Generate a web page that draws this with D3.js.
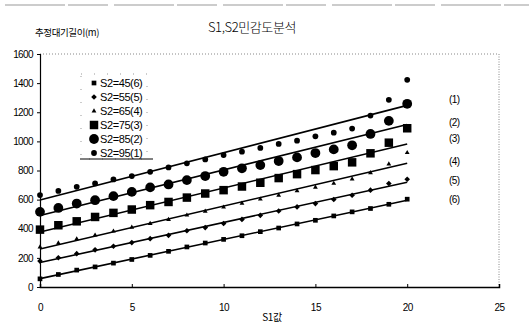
<!DOCTYPE html>
<html><head><meta charset="utf-8">
<script src="https://cdn.jsdelivr.net/npm/d3@7"></script>
<style>body{margin:0;background:#fff}svg{display:block}</style>
</head><body><div id="c"></div>
<script>
const s1Values = d3.range(0, 21);
const seriesNames = ["S2=45(6)", "S2=55(5)", "S2=65(4)", "S2=75(3)", "S2=85(2)", "S2=95(1)"];
const s2_45 = [56,86,116,138,164,189,217,245,275,302,327,352,380,405,433,458,488,516,539,568,603];
const s2_55 = [178,201,229,255,280,305,332,355,386,408,436,464,492,522,550,573,601,630,665,711,740];
const s2_65 = [274,302,330,356,383,410,436,463,493,520,548,575,603,630,660,684,711,741,784,844,922];
const s2_75 = [394,424,451,481,509,532,562,584,614,642,665,690,716,748,775,803,830,856,918,991,1090];
const s2_85 = [516,543,573,596,624,653,684,704,734,762,791,815,837,865,890,920,945,973,1051,1141,1258];
const s2_95 = [631,660,688,711,739,762,791,821,849,876,906,929,955,982,1005,1035,1060,1088,1177,1285,1423];
const seriesValues = [s2_45, s2_55, s2_65, s2_75, s2_85, s2_95];
const lineLabels = ["(6)", "(5)", "(4)", "(3)", "(2)", "(1)"];
const xTicks = [0, 5, 10, 15, 20, 25];
const yTicks = [0, 200, 400, 600, 800, 1000, 1200, 1400, 1600];

const W = 529, H = 325;
const svg = d3.select("#c").append("svg").attr("width", W).attr("height", H);
const x = d3.scaleLinear().domain([0, 25]).range([40, 499]);
const y = d3.scaleLinear().domain([0, 1600]).range([287, 54]);
const numFont = "'Liberation Sans', Arial, sans-serif";
const krFont = "'Noto Sans CJK KR', sans-serif";

// scan edge line
svg.append("line").attr("x1", 5).attr("x2", 529).attr("y1", 5).attr("y2", 5)
  .attr("stroke", "#999").attr("stroke-width", 1).attr("stroke-dasharray", "60,3,40,6");

// plot frame (dotted top/right)
svg.append("line").attr("x1", x(0)).attr("x2", x(25)).attr("y1", y(1600)).attr("y2", y(1600))
  .attr("stroke", "#888").attr("stroke-dasharray", "1,2");
svg.append("line").attr("x1", x(25)).attr("x2", x(25)).attr("y1", y(1600)).attr("y2", y(0))
  .attr("stroke", "#888").attr("stroke-dasharray", "1,1.5");

// axes
const xAxis = d3.axisBottom(x).tickValues(xTicks).tickSize(-3).tickPadding(17).tickFormat(d3.format("d"));
const gx = svg.append("g").attr("transform", `translate(0,${y(0)})`).call(xAxis);
gx.select(".domain").attr("stroke", "#000").attr("stroke-width", 1.5);
gx.selectAll("text").attr("font-family", numFont).attr("font-size", 10).attr("letter-spacing", -0.5).attr("fill", "#000");

const yAxis = d3.axisLeft(y).tickValues(yTicks).tickSize(3).tickPadding(4).tickFormat(d3.format("d"));
const gy = svg.append("g").attr("transform", `translate(${x(0)},0)`).call(yAxis);
gy.select(".domain").attr("stroke", "#000").attr("stroke-width", 1.2);
gy.selectAll("text").attr("font-family", numFont).attr("font-size", 10).attr("letter-spacing", -0.6).attr("fill", "#000");

// titles
svg.append("text").attr("x", 252).attr("y", 32).attr("text-anchor", "middle")
  .attr("font-family", krFont).attr("font-size", 13).attr("font-weight", 300).attr("letter-spacing", -0.4).text("S1,S2민감도분석");
svg.append("text").attr("x", 67).attr("y", 36).attr("text-anchor", "middle")
  .attr("font-family", krFont).attr("font-size", 9.5).attr("letter-spacing", -0.4).text("추정대기길이(m)");
svg.append("text").attr("x", 272).attr("y", 321).attr("text-anchor", "middle")
  .attr("font-family", krFont).attr("font-size", 10).attr("letter-spacing", -0.4).text("S1값");

// marker drawing
const markerSpecs = [
  {type: d3.symbolSquare, size: 22, rot: 0},
  {type: d3.symbolSquare, size: 16, rot: 45},
  {type: d3.symbolTriangle, size: 10, rot: 0},
  {type: d3.symbolSquare, size: 72, rot: 0},
  {type: d3.symbolCircle, size: 75, rot: 0},
  {type: d3.symbolCircle, size: 26, rot: 0}
];

// trend lines (least squares fit of each series)
const labelY = [203, 184, 165, 142, 126, 103];
seriesValues.forEach((vals, i) => {
  const mx = d3.mean(s1Values), my = d3.mean(vals);
  const b = d3.sum(s1Values, (xv, k) => (xv - mx) * (vals[k] - my)) / d3.sum(s1Values, xv => (xv - mx) ** 2);
  const a = my - b * mx;
  const x0 = s1Values[0], x1 = s1Values[s1Values.length - 1];
  svg.append("line").attr("x1", x(x0)).attr("y1", y(a + b * x0)).attr("x2", x(x1)).attr("y2", y(a + b * x1))
    .attr("stroke", "#000").attr("stroke-width", 1.6);
  svg.append("text").attr("x", 449).attr("y", labelY[i])
    .attr("font-family", numFont).attr("font-size", 10).attr("letter-spacing", -0.6).text(lineLabels[i]);
});

seriesValues.forEach((vals, i) => {
  const sp = markerSpecs[i];
  const sym = d3.symbol().type(sp.type).size(sp.size);
  svg.append("g").selectAll("path").data(vals).join("path")
    .attr("d", sym)
    .attr("transform", (d, k) => `translate(${x(s1Values[k])},${y(d)}) rotate(${sp.rot})`)
    .attr("fill", "#000");
});

// legend
const lg = svg.append("g");
lg.append("rect").attr("x", 81).attr("y", 74).attr("width", 66).attr("height", 85)
  .attr("fill", "#fff").attr("stroke", "#999").attr("stroke-dasharray", "1,12");
lg.append("line").attr("x1", 80).attr("x2", 153).attr("y1", 159).attr("y2", 159).attr("stroke", "#000").attr("stroke-width", 1);
seriesNames.forEach((name, i) => {
  const yy = 83 + i * 14;
  const sp = markerSpecs[i];
  const sym = d3.symbol().type(sp.type).size(sp.size);
  lg.append("path").attr("d", sym).attr("transform", `translate(94,${yy}) rotate(${sp.rot})`).attr("fill", "#000");
  lg.append("text").attr("x", 100).attr("y", yy + 4).attr("font-family", numFont).attr("font-size", 11)
    .attr("letter-spacing", -0.4).text(name);
});
</script></body></html>
